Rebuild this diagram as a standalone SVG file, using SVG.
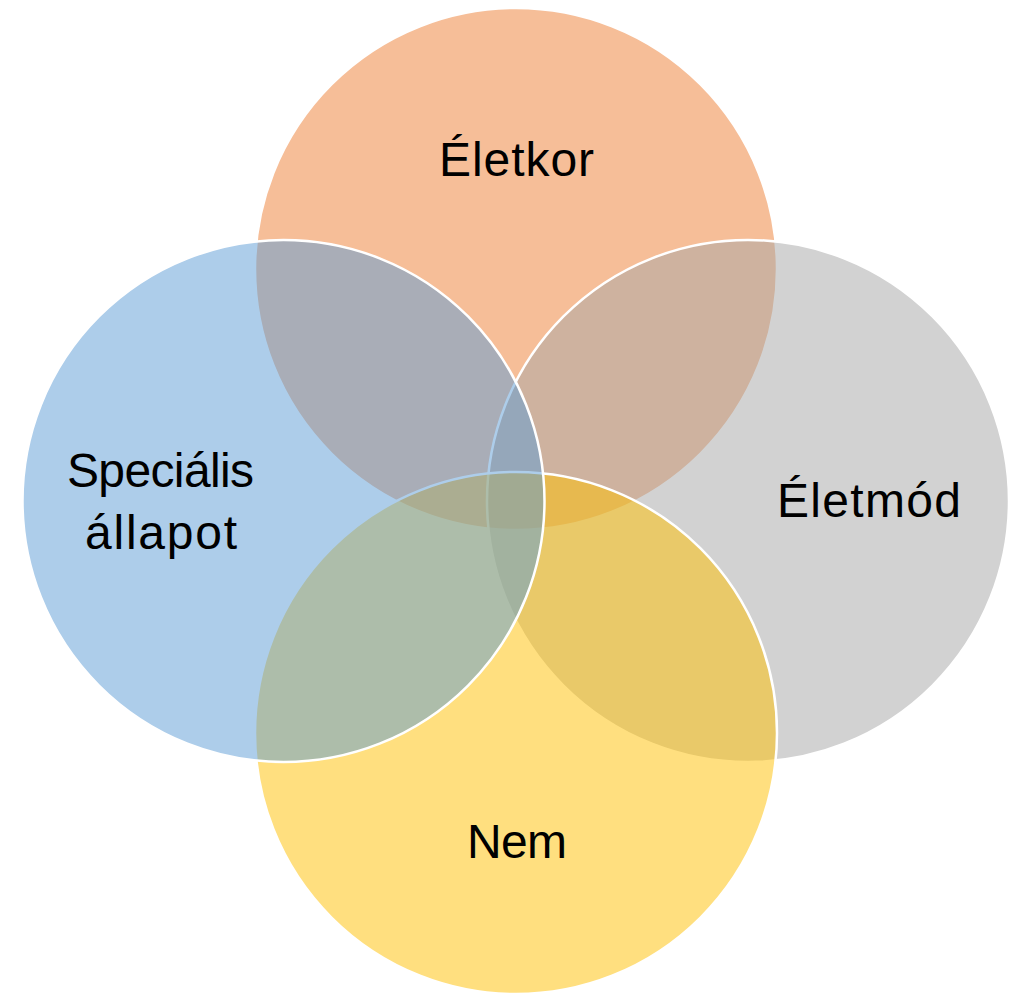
<svg xmlns="http://www.w3.org/2000/svg" width="1015" height="994" viewBox="0 0 1015 994">
<style>
.c{stroke:#FFFFFF;stroke-width:2.5;fill-opacity:0.5}
.t{font-family:"Liberation Sans",Arial,sans-serif;font-size:48px;fill:#000000;text-anchor:middle}
</style>
<rect width="1015" height="994" fill="#FFFFFF"/>
<g id="connectors"></g>
<g id="eletkor"><circle class="c" cx="516" cy="269" r="261" fill="#ED7D31"/></g>
<g id="eletmod"><circle class="c" cx="748" cy="501" r="261" fill="#A5A5A5"/></g>
<g id="nem"><circle class="c" cx="516" cy="733" r="261" fill="#FFC000"/></g>
<g id="specialis"><circle class="c" cx="283.5" cy="501" r="261" fill="#5B9BD5"/></g>
<g id="labels">
<text class="t" x="516.5" y="176" textLength="155">Életkor</text>
<text class="t" x="869" y="517" textLength="184">Életmód</text>
<text class="t" x="517" y="858" textLength="100">Nem</text>
<text class="t" x="160.5" y="487" textLength="187">Speciális</text>
<text class="t" x="161" y="549" textLength="152">állapot</text>
</g>
</svg>
